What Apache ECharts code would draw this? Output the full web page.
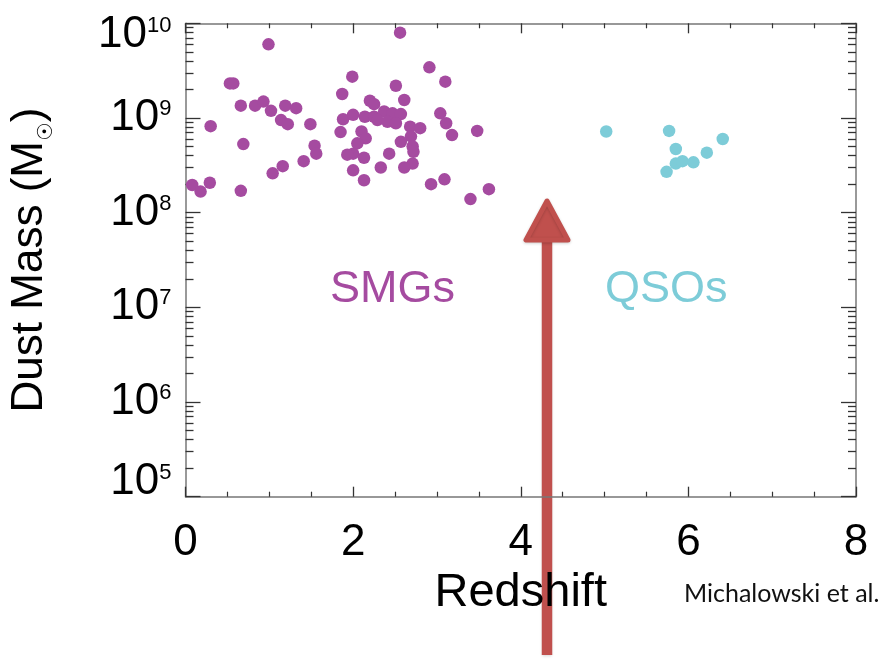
<!DOCTYPE html>
<html>
<head>
<meta charset="utf-8">
<title>Dust Mass vs Redshift</title>
<script src="https://cdn.jsdelivr.net/npm/echarts@6/dist/echarts.min.js"></script>
<style>
  html, body { margin: 0; padding: 0; background: #fff; }
  #chart { width: 882px; height: 659px; }
</style>
</head>
<body>
<div id="chart"></div>
<script>
// Submillimetre galaxies: redshift and dust mass (solar masses)
const smgRedshift = [
  0.99, 0.53, 0.57, 0.66, 0.83, 0.93, 1.02, 1.19, 1.32, 1.14, 1.22, 1.49,
  0.30, 0.69, 1.54, 1.56, 1.41, 1.04, 1.16, 0.08, 0.18, 0.29, 0.66,
  1.87, 1.99, 2.20, 2.25, 1.88, 2.00, 2.14, 2.25, 1.85, 2.10, 2.15, 2.05,
  2.00, 1.93, 2.13, 2.00, 2.13,
  2.56, 2.91, 3.10, 2.51, 2.61, 2.37, 2.47, 2.57, 2.29, 2.41, 2.51, 2.68,
  2.80, 3.04, 3.11, 3.18, 3.48, 2.69, 2.57, 2.71, 2.72, 2.71, 2.61, 2.43,
  2.33, 2.93, 3.09, 3.40, 3.62
];
const smgDustMass = [
  6.0e9, 2.32e9, 2.32e9, 1.35e9, 1.35e9, 1.49e9, 1.19e9, 1.35e9, 1.27e9, 9.5e8, 8.6e8, 8.6e8,
  8.2e8, 5.3e8, 5.1e8, 4.2e8, 3.5e8, 2.6e8, 3.1e8, 1.96e8, 1.67e8, 2.07e8, 1.7e8,
  1.79e9, 2.73e9, 1.52e9, 1.40e9, 9.7e8, 1.08e9, 1.03e9, 1.03e9, 7.1e8, 7.2e8, 6.1e8, 5.4e8,
  4.2e8, 4.1e8, 3.8e8, 2.8e8, 2.2e8,
  7.96e9, 3.43e9, 2.42e9, 2.19e9, 1.55e9, 1.17e9, 1.12e9, 1.10e9, 9.5e8, 9.1e8, 8.8e8, 8.1e8,
  7.8e8, 1.12e9, 8.8e8, 6.6e8, 7.3e8, 6.4e8, 5.6e8, 5.0e8, 4.4e8, 3.3e8, 3.0e8, 4.2e8,
  3.0e8, 2.0e8, 2.25e8, 1.39e8, 1.77e8
];

// High-redshift quasars
const qsoRedshift = [5.02, 5.77, 5.85, 5.85, 5.93, 6.06, 5.74, 6.22, 6.41];
const qsoDustMass = [7.2e8, 7.3e8, 4.7e8, 3.3e8, 3.5e8, 3.4e8, 2.7e8, 4.3e8, 6.0e8];

// Axis ticks
const xTicks = [0, 2, 4, 6, 8];
const yDecades = [1e5, 1e6, 1e7, 1e8, 1e9, 1e10];
const yMinorMantissas = [2, 3, 4, 5, 6, 7, 8, 9];

const yMinorTicks = [];
yDecades.slice(0, -1).forEach(d => yMinorMantissas.forEach(m => yMinorTicks.push(m * d)));

const smgColor = '#A54BA0';
const qsoColor = '#7DCCD8';
const axisColor = '#777777';
const tickColor = '#333333';
const fontFamily = '"Liberation Sans", Arial, Helvetica, sans-serif';

const zip = (xs, ys) => xs.map((x, i) => [x, ys[i]]);

function decadeLabel(v) {
  const n = Math.round(Math.log10(v));
  let style = 'b';
  let sup = 'e';
  if (n === 5) { style = 'bLow'; sup = 'eLow'; }
  if (n === 10) { style = 'bHigh'; sup = 'eHigh'; }
  return '{' + style + '|10}{' + sup + '|' + n + '}';
}

const labelRich = {
  b: { fontSize: 44, fontFamily, color: '#000' },
  e: { fontSize: 22, fontFamily, color: '#000', verticalAlign: 'top', padding: [2, 0, 0, 0] },
  bLow: { fontSize: 44, fontFamily, color: '#000', padding: [0, 0, 30, 0] },
  eLow: { fontSize: 22, fontFamily, color: '#000', verticalAlign: 'top', padding: [2, 0, 0, 0] },
  bHigh: { fontSize: 44, fontFamily, color: '#000', padding: [24, 0, 0, 0] },
  eHigh: { fontSize: 22, fontFamily, color: '#000', verticalAlign: 'top', padding: [26, 0, 0, 0] }
};

const baseX = {
  type: 'value', min: 0, max: 8, interval: 2,
  axisLine: { show: true, onZero: false, lineStyle: { color: axisColor, width: 1.5 } },
  axisTick: { show: true, inside: true, length: 10, lineStyle: { color: tickColor, width: 1.3 } },
  minorTick: { show: true, splitNumber: 4, length: 5, lineStyle: { color: tickColor, width: 1.2 } },
  splitLine: { show: false },
  minorSplitLine: { show: false }
};

const baseY = {
  type: 'log', logBase: 10, min: 1e5, max: 1e10,
  splitLine: { show: false }
};

const option = {
  backgroundColor: '#ffffff',
  animation: false,
  grid: { left: 184, right: 26, top: 23.3, bottom: 162.3, containLabel: false },
  xAxis: [
    Object.assign({}, baseX, {
      position: 'bottom',
      name: 'Redshift',
      nameLocation: 'middle',
      nameGap: 73,
      nameTextStyle: { fontSize: 47, fontFamily, color: '#000' },
      axisLabel: {
        show: true, margin: 24, fontSize: 44, fontFamily, color: '#000',
        customValues: xTicks
      }
    }),
    Object.assign({}, baseX, {
      position: 'top',
      axisLabel: { show: false }
    })
  ],
  yAxis: [
    Object.assign({}, baseY, {
      position: 'left',
      name: 'Dust Mass (M{s|☉})',
      nameLocation: 'middle',
      nameGap: 128,
      nameRotate: 90,
      nameTextStyle: {
        fontSize: 44, fontFamily, color: '#000',
        rich: {
          s: { fontSize: 21, fontFamily: '"DejaVu Sans", sans-serif', color: '#000', padding: [34, 0, 0, 0] }
        }
      },
      axisLine: { show: true, lineStyle: { color: axisColor, width: 1.5 } },
      axisTick: { show: true, inside: true, length: 15, customValues: yDecades, lineStyle: { color: tickColor, width: 1.3 } },
      axisLabel: {
        show: true, margin: 14, customValues: yDecades,
        formatter: decadeLabel, rich: labelRich
      }
    }),
    Object.assign({}, baseY, {
      position: 'left',
      axisLine: { show: false },
      axisTick: { show: true, inside: true, length: 8, customValues: yMinorTicks, lineStyle: { color: tickColor, width: 1.3 } },
      axisLabel: { show: false }
    }),
    Object.assign({}, baseY, {
      position: 'right',
      axisLine: { show: true, lineStyle: { color: axisColor, width: 1.5 } },
      axisTick: { show: true, inside: true, length: 15, customValues: yDecades, lineStyle: { color: tickColor, width: 1.3 } },
      axisLabel: { show: false }
    }),
    Object.assign({}, baseY, {
      position: 'right',
      axisLine: { show: false },
      axisTick: { show: true, inside: true, length: 8, customValues: yMinorTicks, lineStyle: { color: tickColor, width: 1.3 } },
      axisLabel: { show: false }
    })
  ],
  series: [
    {
      name: 'SMGs', type: 'scatter', xAxisIndex: 0, yAxisIndex: 0,
      symbolSize: 12.5,
      itemStyle: { color: smgColor, opacity: 1 },
      data: zip(smgRedshift, smgDustMass)
    },
    {
      name: 'QSOs', type: 'scatter', xAxisIndex: 0, yAxisIndex: 0,
      symbolSize: 12.5,
      itemStyle: { color: qsoColor, opacity: 1 },
      data: zip(qsoRedshift, qsoDustMass)
    }
  ],
  graphic: [
    {
      type: 'text', left: 330, top: 267, z: 50,
      style: { text: 'SMGs', font: '45px ' + fontFamily, fill: smgColor }
    },
    {
      type: 'text', left: 605, top: 267, z: 50,
      style: { text: 'QSOs', font: '45px ' + fontFamily, fill: qsoColor }
    },
    {
      type: 'text', left: 684, top: 581, z: 50,
      style: { text: 'Michalowski et al.', font: '25px Lato, "Open Sans", sans-serif', fill: '#111' }
    },
    {
      // red arrow pointing up at the gap between the two populations
      type: 'group', z: 100,
      children: [
        {
          type: 'line',
          shape: { x1: 547, y1: 655, x2: 547, y2: 232 },
          style: { stroke: '#C0504D', lineWidth: 10.5, shadowBlur: 3, shadowColor: 'rgba(0,0,0,0.18)', shadowOffsetY: 1 }
        },
        {
          type: 'polygon',
          shape: { points: [[547, 201], [526, 240], [568, 240]] },
          style: { fill: '#C0504D', stroke: '#C0504D', lineWidth: 5, lineJoin: 'round', shadowBlur: 3, shadowColor: 'rgba(0,0,0,0.18)', shadowOffsetY: 1 }
        }
      ]
    }
  ]
};

const chart = echarts.init(document.getElementById('chart'), null, { renderer: 'canvas' });
chart.setOption(option);
</script>
</body>
</html>
